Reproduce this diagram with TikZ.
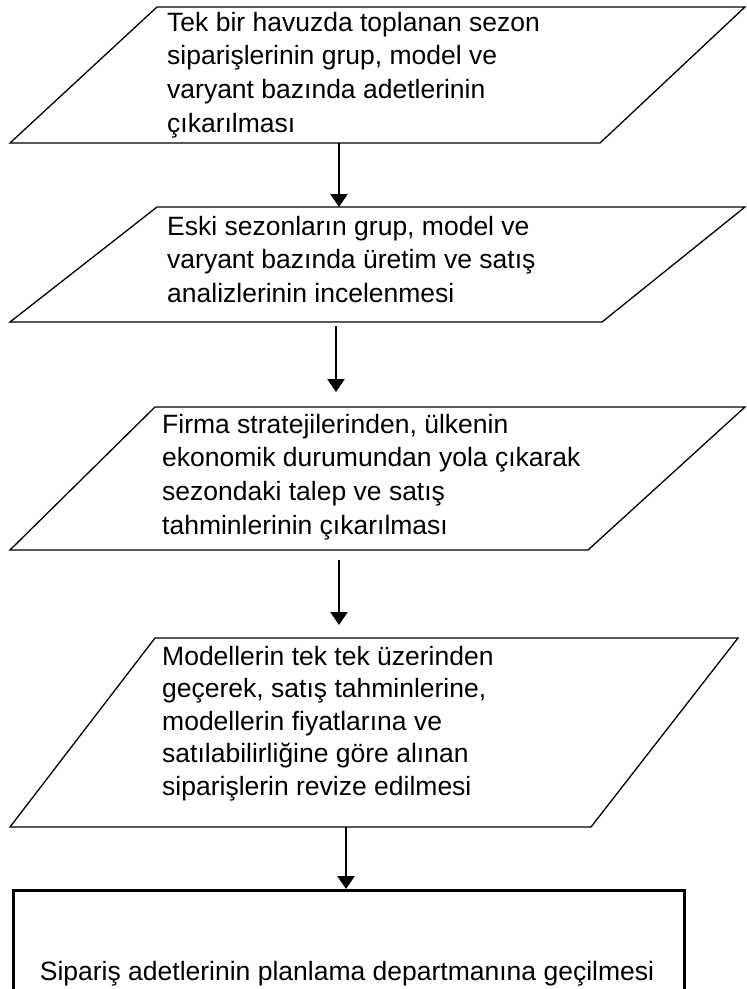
\documentclass[tikz,border=0pt]{standalone}
\usepackage{fontspec}
\setmainfont{Liberation Sans}
\usetikzlibrary{arrows.meta}
% left-aligned block of lines whose baseline is the first line
\newcommand\steplines[1]{\begin{tabular}[t]{@{}l@{}}#1\end{tabular}}
\begin{document}
\begin{tikzpicture}[x=1pt,y=-1pt,
  iobox/.style={draw=black,line width=1.3pt,line join=miter},
  flow/.style={line width=2.4pt,-{Triangle[width=17pt,length=13pt]}},
  steptext/.style={anchor=base west,inner sep=0pt,font=\fontsize{26.5}{33.7}\selectfont},
  steptextb/.style={steptext,font=\fontsize{26.5}{32.5}\selectfont},
  endbox/.style={draw=black,line width=3pt,rectangle,inner sep=0pt,anchor=north west}]
\useasboundingbox[fill=white] (0,0) rectangle (747,989);

% step 1
\coordinate (a1) at (157,7);   \coordinate (b1) at (745,7);
\coordinate (c1) at (600,143); \coordinate (d1) at (10,143);
\draw[iobox] (a1) -- (b1) -- (c1) -- (d1) -- cycle;
\node[steptext] (t1) at (167,31) {\steplines{Tek bir havuzda toplanan sezon\\
  siparişlerinin grup, model ve\\ varyant bazında adetlerinin\\ çıkarılması}};

% step 2
\coordinate (a2) at (157,207); \coordinate (b2) at (745,207);
\coordinate (c2) at (602,322); \coordinate (d2) at (10,322);
\draw[iobox] (a2) -- (b2) -- (c2) -- (d2) -- cycle;
\node[steptext] (t2) at (167,235) {\steplines{Eski sezonların grup, model ve\\
  varyant bazında üretim ve satış\\ analizlerinin incelenmesi}};

% step 3
\coordinate (a3) at (155,407); \coordinate (b3) at (745,407);
\coordinate (c3) at (588,550); \coordinate (d3) at (10,550);
\draw[iobox] (a3) -- (b3) -- (c3) -- (d3) -- cycle;
\node[steptext] (t3) at (162,433) {\steplines{Firma stratejilerinden, ülkenin\\
  ekonomik durumundan yola çıkarak\\ sezondaki talep ve satış\\ tahminlerinin çıkarılması}};

% step 4
\coordinate (a4) at (155,638); \coordinate (b4) at (738,638);
\coordinate (c4) at (591,827); \coordinate (d4) at (10,827);
\draw[iobox] (a4) -- (b4) -- (c4) -- (d4) -- cycle;
\node[steptextb] (t4) at (162,665) {\steplines{Modellerin tek tek üzerinden\\
  geçerek, satış tahminlerine,\\ modellerin fiyatlarına ve\\
  satılabilirliğine göre alınan\\ siparişlerin revize edilmesi}};

% final step
\node[endbox,minimum width=671pt,minimum height=130pt] (box5) at (12,889) {};
\node[anchor=base,inner sep=0pt,font=\fontsize{26.5}{32}\selectfont] (t5) at (347,980)
  {Sipariş adetlerinin planlama departmanına geçilmesi};

% connectors
\coordinate (s1) at (339,143); \coordinate (e1) at (339,207);
\coordinate (s2) at (336,326); \coordinate (e2) at (336,392);
\coordinate (s3) at (339,560); \coordinate (e3) at (339,625);
\coordinate (s4) at (346,827); \coordinate (e4) at (346,889);
\draw[flow] (s1) -- (e1);
\draw[flow] (s2) -- (e2);
\draw[flow] (s3) -- (e3);
\draw[flow] (s4) -- (e4);
\end{tikzpicture}
\end{document}
